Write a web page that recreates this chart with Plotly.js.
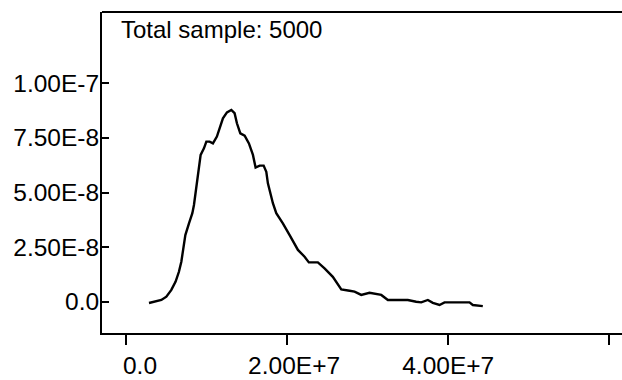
<!DOCTYPE html>
<html>
<head>
<meta charset="utf-8">
<script src="https://cdn.plot.ly/plotly-3.0.1.min.js"></script>
<style>html,body{margin:0;padding:0;background:#fff;overflow:hidden;}#chart{width:622px;height:380px;}</style>
</head>
<body>
<div id="chart"></div>
<script>
var xValues = [2.81e6,3.52e6,4.35e6,4.97e6,5.59e6,6.12e6,6.53e6,6.83e6,7.12e6,7.33e6,7.78e6,8.20e6,8.40e6,8.61e6,8.77e6,9.02e6,9.23e6,9.64e6,9.94e6,10.35e6,10.76e6,11.25e6,11.59e6,12.00e6,12.50e6,13.04e6,13.45e6,13.74e6,14.16e6,14.70e6,15.23e6,15.73e6,16.06e6,16.56e6,17.06e6,17.39e6,17.59e6,17.89e6,18.21e6,18.63e6,19.45e6,20.29e6,21.32e6,22.15e6,22.68e6,23.80e6,24.63e6,25.66e6,26.29e6,26.71e6,27.74e6,28.36e6,29.19e6,30.22e6,31.68e6,32.50e6,34.16e6,34.98e6,36.02e6,36.65e6,37.47e6,38.09e6,38.92e6,39.54e6,42.65e6,43.06e6,44.30e6];
var yValues = [-0.06e-8,0.0,0.08e-8,0.23e-8,0.54e-8,0.92e-8,1.37e-8,1.83e-8,2.52e-8,3.05e-8,3.59e-8,4.05e-8,4.43e-8,5.04e-8,5.65e-8,6.26e-8,6.72e-8,7.02e-8,7.33e-8,7.33e-8,7.25e-8,7.56e-8,7.94e-8,8.40e-8,8.67e-8,8.78e-8,8.63e-8,8.17e-8,7.71e-8,7.60e-8,7.25e-8,6.72e-8,6.14e-8,6.23e-8,6.23e-8,5.95e-8,5.42e-8,4.96e-8,4.51e-8,4.05e-8,3.59e-8,3.05e-8,2.37e-8,2.06e-8,1.80e-8,1.80e-8,1.53e-8,1.14e-8,0.76e-8,0.56e-8,0.50e-8,0.46e-8,0.31e-8,0.41e-8,0.31e-8,0.08e-8,0.08e-8,0.08e-8,0.0,-0.03e-8,0.08e-8,-0.05e-8,-0.15e-8,-0.03e-8,-0.03e-8,-0.15e-8,-0.20e-8];
var xTickVals = [0, 2e7, 4e7, 6e7];
var xTickText = ["\u00a0\u00a0\u00a0\u00a00.0", "\u00a0\u00a02.00E+7", "4.00E+7", ""];
var yTickVals = [0, 2.5e-8, 5e-8, 7.5e-8, 1e-7];
var yTickText = ["0.0", "2.50E-8", "5.00E-8", "7.50E-8", "1.00E-7"];
var annotationText = "Total sample: 5000";

var font = {family: "Liberation Sans, Arial, sans-serif", size: 24.5, color: "#000"};

var trace = {
  x: xValues, y: yValues, type: "scatter", mode: "lines",
  line: {color: "#000", width: 2.4}, hoverinfo: "skip"
};

var layout = {
  width: 622, height: 380,
  margin: {l: 102, r: 0, t: 12, b: 47, pad: 0},
  paper_bgcolor: "#fff", plot_bgcolor: "#fff",
  showlegend: false,
  font: font,
  xaxis: {
    range: [-3.03e6, 6.16e7], tickvals: xTickVals, ticktext: xTickText,
    ticks: "outside", ticklen: 10, tickwidth: 2, tickcolor: "#000",
    showline: true, linecolor: "#000", linewidth: 2, mirror: false,
    showgrid: false, zeroline: false, tickfont: font, fixedrange: true
  },
  yaxis: {
    range: [-1.433e-8, 1.3265e-7], tickvals: yTickVals, ticktext: yTickText,
    ticks: "inside", ticklen: 7, tickwidth: 2, tickcolor: "#000",
    ticklabelstandoff: -4,
    showline: true, linecolor: "#000", linewidth: 2, mirror: false,
    showgrid: false, zeroline: false, tickfont: font, fixedrange: true
  },
  shapes: [{
    type: "line", xref: "paper", yref: "paper", x0: 0, x1: 1.01, y0: 1, y1: 1,
    line: {color: "#000", width: 2}
  }],
  annotations: [{
    text: annotationText, xref: "paper", yref: "paper",
    x: 0.032, y: 0.944, xanchor: "left", yanchor: "middle",
    showarrow: false, font: {family: "Liberation Sans, Arial, sans-serif", size: 24, color: "#000"}
  }]
};

Plotly.newPlot("chart", [trace], layout, {staticPlot: true, displayModeBar: false});
</script>
</body>
</html>
